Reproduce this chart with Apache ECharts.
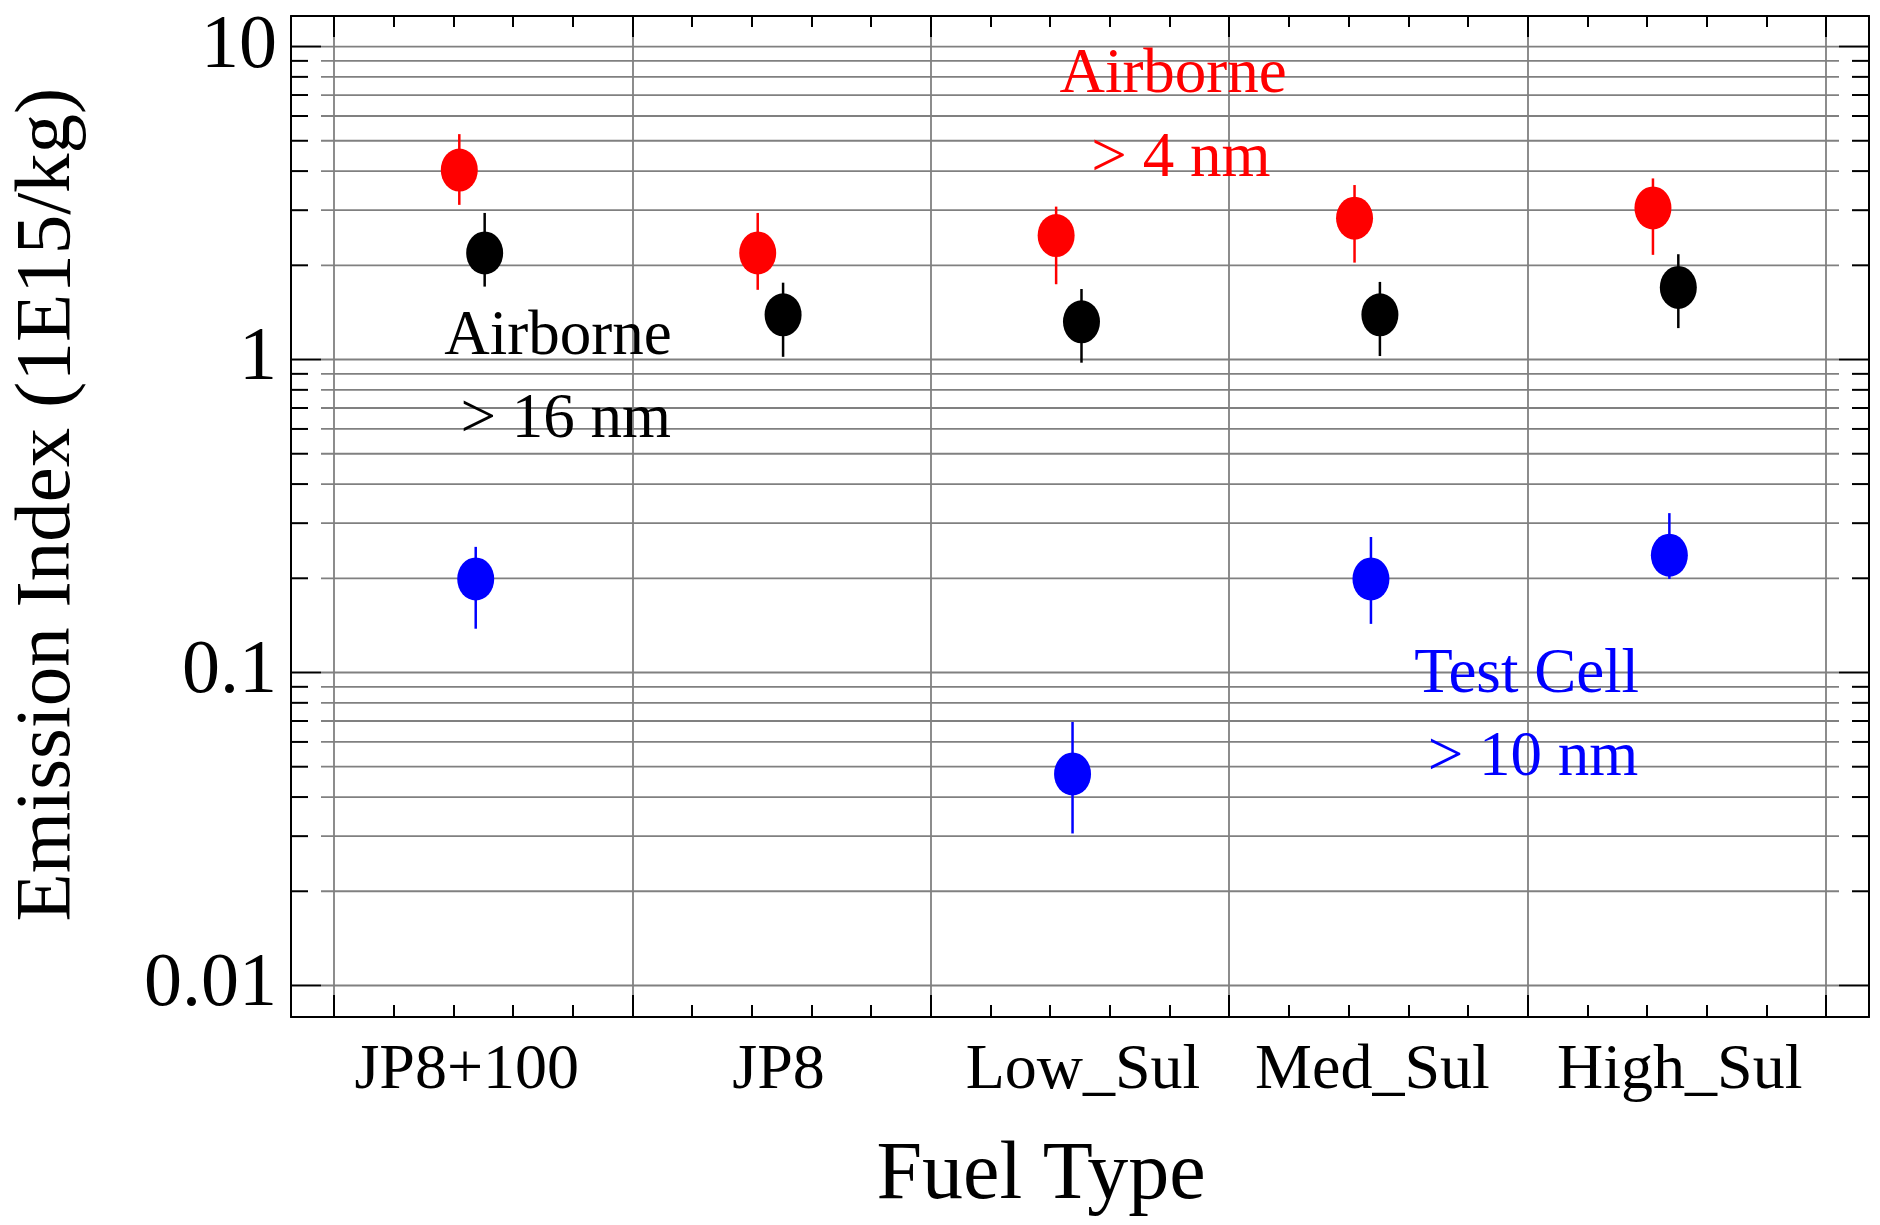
<!DOCTYPE html>
<html>
<head>
<meta charset="utf-8">
<title>Emission Index vs Fuel Type</title>
<script src="https://cdn.jsdelivr.net/npm/echarts@6/dist/echarts.min.js"></script>
<style>
html, body { margin: 0; padding: 0; background: #fff; }
#chart { width: 1880px; height: 1225px; }
</style>
</head>
<body>
<div id="chart"></div>
<script>
// categories and where their names sit on the x scale
const fuels = ['JP8+100', 'JP8', 'Low_Sul', 'Med_Sul', 'High_Sul'];
const fuelLabelPos = [0.445, 1.49, 2.51, 3.48, 4.51];

// Airborne > 4 nm
const air4 = [4.03, 2.19, 2.49, 2.83, 3.05];
const air4Lo = [3.12, 1.67, 1.74, 2.04, 2.16];
const air4Hi = [5.25, 2.94, 3.08, 3.61, 3.79];
// Airborne > 16 nm
const air16 = [2.19, 1.39, 1.32, 1.39, 1.70];
const air16Lo = [1.71, 1.02, 0.977, 1.026, 1.26];
const air16Hi = [2.94, 1.76, 1.68, 1.77, 2.17];
// Test cell > 10 nm (no JP8 run)
const cell10 = [0.199, null, 0.0474, 0.199, 0.237];
const cell10Lo = [0.138, null, 0.0306, 0.143, 0.199];
const cell10Hi = [0.252, null, 0.0695, 0.271, 0.323];

// ticks
const xMajor = [0, 1, 2, 3, 4, 5];
const xMinor = [0.2, 0.4, 0.6, 0.8, 1.2, 1.4, 1.6, 1.8, 2.2, 2.4, 2.6, 2.8,
                3.2, 3.4, 3.6, 3.8, 4.2, 4.4, 4.6, 4.8];
const yMajor = [0.01, 0.1, 1, 10];
const yMinor = [0.02, 0.03, 0.04, 0.05, 0.06, 0.07, 0.08, 0.09,
                0.2, 0.3, 0.4, 0.5, 0.6, 0.7, 0.8, 0.9,
                2, 3, 4, 5, 6, 7, 8, 9];

// text notes in the plot
const notes = [
    {text: 'Airborne', x: 2.812, y: 8.09, color: '#ff0000'},
    {text: '> 4 nm', x: 2.838, y: 4.36, color: '#ff0000'},
    {text: 'Airborne', x: 0.751, y: 1.174, color: '#000000'},
    {text: '> 16 nm', x: 0.777, y: 0.639, color: '#000000'},
    {text: 'Test Cell', x: 3.997, y: 0.098, color: '#0000ff'},
    {text: '> 10 nm', x: 4.018, y: 0.053, color: '#0000ff'}
];

const FONT = 'Liberation Serif';
const GRID_GRAY = '#808080';
const xMin = -0.144, xMax = 5.144;
const yMin = 0.00793, yMax = 12.52;

// horizontal offset of each group inside its category
const groups = [
    {name: 'Airborne > 4 nm', vals: air4, lo: air4Lo, hi: air4Hi, off: 0.42, color: '#ff0000'},
    {name: 'Airborne > 16 nm', vals: air16, lo: air16Lo, hi: air16Hi, off: 0.505, color: '#000000'},
    {name: 'Test Cell > 10 nm', vals: cell10, lo: cell10Lo, hi: cell10Hi, off: 0.475, color: '#0000ff'}
];

function isMajor(v) {
    return yMajor.some(function (t) { return Math.abs(Math.log10(v / t)) < 1e-6; });
}

function tickAxis(position, values, len) {
    return {
        type: 'value', gridIndex: 0, position: position, min: xMin, max: xMax, z: 3,
        axisLine: {show: false, onZero: false},
        axisTick: {show: true, inside: true, length: len, customValues: values,
                   lineStyle: {color: '#000', width: 2}},
        axisLabel: {show: false},
        splitLine: {show: false}
    };
}

const series = [];

// horizontal grid lines plus left/right ticks on the log axis
series.push({
    type: 'custom',
    silent: true,
    z: 1,
    data: yMajor.concat(yMinor).map(function (v) { return [0, v]; }),
    encode: {x: 0, y: 1},
    renderItem: function (params, api) {
        const cs = params.coordSys;
        const v = api.value(1);
        const y = api.coord([0, v])[1];
        const t = isMajor(v) ? 30 : 17;
        const left = cs.x, right = cs.x + cs.width;
        return {
            type: 'group',
            children: [
                {type: 'line', shape: {x1: left + 30, y1: y, x2: right - 30, y2: y},
                 style: {stroke: GRID_GRAY, lineWidth: 1.8}},
                {type: 'line', shape: {x1: left, y1: y, x2: left + t, y2: y},
                 style: {stroke: '#000', lineWidth: 2}},
                {type: 'line', shape: {x1: right - t, y1: y, x2: right, y2: y},
                 style: {stroke: '#000', lineWidth: 2}}
            ]
        };
    }
});

groups.forEach(function (g) {
    const bars = [], pts = [];
    g.vals.forEach(function (v, i) {
        if (v == null) return;
        bars.push([i + g.off, g.lo[i], g.hi[i]]);
        pts.push([i + g.off, v]);
    });
    series.push({
        type: 'custom',
        name: g.name + ' error',
        silent: true,
        z: 2,
        data: bars,
        encode: {x: 0, y: [1, 2]},
        renderItem: function (params, api) {
            const a = api.coord([api.value(0), api.value(1)]);
            const b = api.coord([api.value(0), api.value(2)]);
            return {type: 'line', shape: {x1: a[0], y1: a[1], x2: b[0], y2: b[1]},
                    style: {stroke: g.color, lineWidth: 2.5}};
        }
    });
    series.push({
        type: 'scatter',
        name: g.name,
        z: 3,
        symbol: 'circle',
        symbolSize: [37, 43],
        itemStyle: {color: g.color, opacity: 1},
        data: pts
    });
});

series.push({
    type: 'scatter',
    silent: true,
    z: 4,
    symbolSize: 0,
    itemStyle: {color: 'transparent', opacity: 1},
    label: {show: true, position: 'inside', fontFamily: FONT, fontSize: 63,
            opacity: 1, textBorderWidth: 0, textShadowBlur: 0},
    data: notes.map(function (n) {
        return {value: [n.x, n.y], label: {color: n.color, formatter: n.text}};
    })
});

const chart = echarts.init(document.getElementById('chart'), null, {renderer: 'canvas'});
chart.setOption({
    animation: false,
    backgroundColor: '#ffffff',
    textStyle: {fontFamily: FONT},
    grid: {left: 291, right: 11, top: 16, bottom: 208, containLabel: false, outerBoundsMode: 'none'},
    xAxis: [
        {
            type: 'value', gridIndex: 0, position: 'bottom', min: xMin, max: xMax, z: 0,
            axisLine: {show: true, onZero: false, lineStyle: {color: '#000', width: 2}},
            axisTick: {show: false, customValues: xMajor},
            splitLine: {show: true, lineStyle: {color: GRID_GRAY, width: 1.8}},
            axisLabel: {
                show: true, customValues: fuelLabelPos, margin: 22,
                fontFamily: FONT, fontSize: 64, color: '#000',
                formatter: function (v) {
                    const i = fuelLabelPos.indexOf(v);
                    return i < 0 ? '' : fuels[i];
                }
            },
            name: 'Fuel Type',
            nameLocation: 'middle',
            nameGap: 118,
            nameTextStyle: {fontFamily: FONT, fontSize: 82, color: '#000', padding: [0, 78, 0, 0]}
        },
        tickAxis('bottom', xMajor, 22),
        tickAxis('bottom', xMinor, 12),
        {
            type: 'value', gridIndex: 0, position: 'top', min: xMin, max: xMax, z: 3,
            axisLine: {show: true, onZero: false, lineStyle: {color: '#000', width: 2}},
            axisTick: {show: true, inside: true, length: 21, customValues: xMajor,
                       lineStyle: {color: '#000', width: 2}},
            axisLabel: {show: false},
            splitLine: {show: false}
        },
        tickAxis('top', xMinor, 11)
    ],
    yAxis: [
        {
            type: 'log', logBase: 10, gridIndex: 0, position: 'left', min: yMin, max: yMax, z: 3,
            axisLine: {show: true, onZero: false, lineStyle: {color: '#000', width: 2}},
            axisTick: {show: false},
            minorTick: {show: false},
            splitLine: {show: false},
            axisLabel: {
                show: true, margin: 14, fontFamily: FONT, fontSize: 76, color: '#000',
                formatter: function (v) {
                    const m = yMajor.filter(function (t) { return Math.abs(Math.log10(v / t)) < 1e-6; });
                    return m.length ? String(m[0]) : '';
                }
            },
            name: 'Emission Index (1E15/kg)',
            nameLocation: 'middle',
            nameGap: 203,
            nameRotate: 90,
            nameTextStyle: {fontFamily: FONT, fontSize: 79, color: '#000', padding: [0, 0, 0, 24]}
        },
        {
            type: 'log', logBase: 10, gridIndex: 0, position: 'right', min: yMin, max: yMax, z: 3,
            axisLine: {show: true, onZero: false, lineStyle: {color: '#000', width: 2}},
            axisTick: {show: false},
            splitLine: {show: false},
            axisLabel: {show: false}
        }
    ],
    series: series
});
</script>
</body>
</html>
